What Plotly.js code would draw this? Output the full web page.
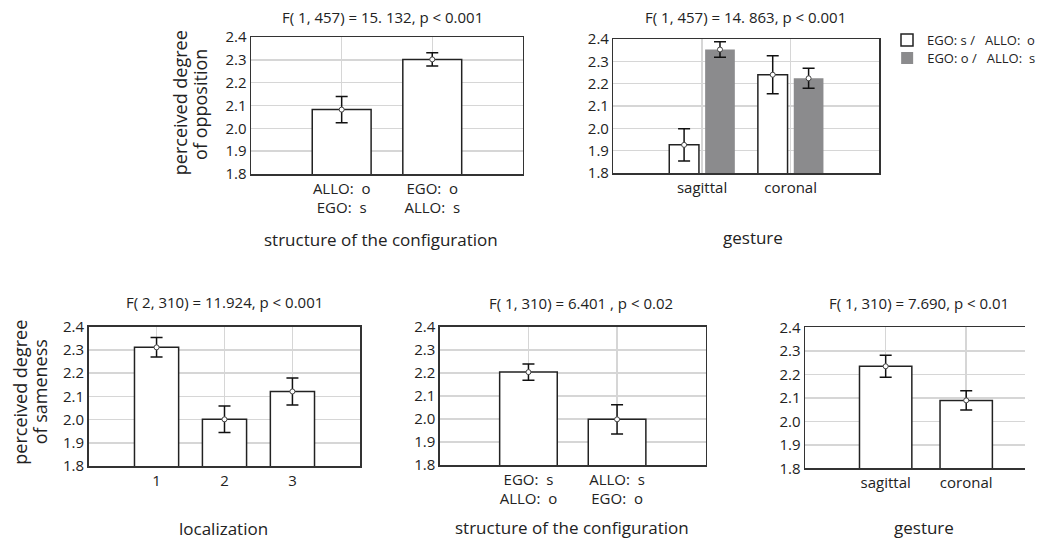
<!DOCTYPE html>
<html>
<head>
<meta charset="utf-8">
<script src="https://cdn.plot.ly/plotly-3.0.1.min.js"></script>
<style>html,body{margin:0;padding:0;background:#fff}#chart{width:1041px;height:539px}</style>
</head>
<body>
<div id="chart"></div>
<script>
// ---------- data ----------
const oppStructureCats = ['ALLO:  o<br>EGO:  s', 'EGO:  o<br>ALLO:  s'];
const oppStructureMean = [2.082, 2.302];
const oppStructureErr  = [0.057, 0.029];

const gestureCats = ['sagittal', 'coronal'];
const seriesNames = ['EGO: s /   ALLO:  o', 'EGO: o /   ALLO:  s'];
const oppGestureEgoSMean = [1.926, 2.240];
const oppGestureEgoSErr  = [0.072, 0.085];
const oppGestureEgoOMean = [2.353, 2.224];
const oppGestureEgoOErr  = [0.035, 0.045];

const localizationCats = ['1', '2', '3'];
const sameLocMean = [2.311, 2.001, 2.121];
const sameLocErr  = [0.042, 0.057, 0.058];

const sameStructureCats = ['EGO:  s<br>ALLO:  o', 'ALLO:  s<br>EGO:  o'];
const sameStructureMean = [2.203, 1.998];
const sameStructureErr  = [0.035, 0.063];

const sameGestureMean = [2.234, 2.089];
const sameGestureErr  = [0.047, 0.041];

const yTicks = [1.8, 1.9, 2.0, 2.1, 2.2, 2.3, 2.4];

const titles = [
  'F( 1, 457) = 15. 132, p < 0.001',
  'F( 1, 457) = 14. 863, p < 0.001',
  'F( 2, 310) = 11.924, p < 0.001',
  'F( 1, 310) = 6.401 , p < 0.02',
  'F( 1, 310) = 7.690, p < 0.01'
];
const xTitles = ['structure of the configuration', 'gesture', 'localization', 'structure of the configuration', 'gesture'];
const yTitleLines = [['perceived degree', 'of opposition'], ['perceived degree', 'of sameness']];

// ---------- helpers ----------
const W = 1041, H = 539;
const px = x => x / W;
const py = y => 1 - y / H;
const idx = arr => arr.map((_, i) => i);
const INK = '#222';
const GRID = '#d6d6d6';
const FONT = 'Open Sans, sans-serif';
const WHITE = '#ffffff';
const GREY = '#8b8b8d';

function barTrace(xs, ys, ax, opts) {
  return Object.assign({
    type: 'bar', x: xs, y: ys, xaxis: 'x' + ax, yaxis: 'y' + ax,
    width: 0.65, marker: {color: WHITE, line: {color: INK, width: 1.5}},
    showlegend: false, hoverinfo: 'y'
  }, opts || {});
}
function meanTrace(xs, ys, err, ax) {
  return {
    type: 'scatter', mode: 'markers', x: xs, y: ys, xaxis: 'x' + ax, yaxis: 'y' + ax,
    error_y: {type: 'data', array: err, visible: true, color: '#111', thickness: 1.5, width: 6},
    marker: {symbol: 'circle', size: 5, color: '#fff', line: {color: '#444', width: 1}},
    showlegend: false, hoverinfo: 'y'
  };
}
const ax = s => (s === 1 ? '' : String(s));

// ---------- traces ----------
const g = idx(gestureCats);
const halfW = 0.335, off = 0.2025;
const traces = [
  barTrace(idx(oppStructureCats), oppStructureMean, ''),
  meanTrace(idx(oppStructureCats), oppStructureMean, oppStructureErr, ''),

  barTrace(g, oppGestureEgoSMean, '2', {width: halfW, offset: -0.37, name: seriesNames[0], showlegend: true,
    legend: 'legend', marker: {color: WHITE, line: {color: INK, width: 1.5}}}),
  barTrace(g, oppGestureEgoOMean, '2', {width: halfW, offset: 0.035, name: seriesNames[1], showlegend: true,
    legend: 'legend2', marker: {color: GREY, line: {color: GREY, width: 0}}}),
  meanTrace(g.map(v => v - off), oppGestureEgoSMean, oppGestureEgoSErr, '2'),
  meanTrace(g.map(v => v + off), oppGestureEgoOMean, oppGestureEgoOErr, '2'),

  barTrace(idx(localizationCats), sameLocMean, '3'),
  meanTrace(idx(localizationCats), sameLocMean, sameLocErr, '3'),

  barTrace(idx(sameStructureCats), sameStructureMean, '4'),
  meanTrace(idx(sameStructureCats), sameStructureMean, sameStructureErr, '4'),

  barTrace(idx(gestureCats), sameGestureMean, '5'),
  meanTrace(idx(gestureCats), sameGestureMean, sameGestureErr, '5')
];

// ---------- layout ----------
const boxes = [
  {x0: 255, x1: 531, y0: 37, y1: 174, xr: [-1, 2], cats: oppStructureCats},
  {x0: 623, x1: 893, y0: 39, y1: 173, xr: [-1, 2], cats: gestureCats},
  {x0: 90, x1: 366, y0: 326.7, y1: 466, xr: [-1, 3], cats: localizationCats},
  {x0: 446.7, x1: 716.7, y0: 326.7, y1: 465, xr: [-1, 2], cats: sameStructureCats},
  {x0: 817.7, x1: 1041, y0: 327.3, y1: 468.3, xr: [-1, 1.73], cats: gestureCats}
];

const legendBase = {xanchor: 'left', yanchor: 'middle', font: {size: 13, color: INK},
  bgcolor: 'rgba(0,0,0,0)', borderwidth: 0, itemwidth: 30};

const layout = {
  width: W, height: H,
  margin: {l: 0, r: 0, t: 0, b: 0},
  paper_bgcolor: '#fff', plot_bgcolor: '#fff',
  font: {family: FONT, size: 15, color: INK},
  barmode: 'overlay',
  showlegend: true,
  legend: Object.assign({x: px(901), y: py(40)}, legendBase),
  legend2: Object.assign({x: px(901), y: py(58)}, legendBase),
  annotations: []
};

boxes.forEach((b, i) => {
  const n = ax(i + 1);
  layout['xaxis' + n] = {
    domain: [px(b.x0), px(b.x1)], anchor: 'y' + n, range: b.xr,
    tickmode: 'array', tickvals: idx(b.cats), ticktext: b.cats,
    showgrid: true, gridcolor: GRID, gridwidth: 1.5, zeroline: false,
    showline: true, mirror: true, linecolor: '#333', linewidth: 1.5,
    ticks: '', tickfont: {size: 15, color: INK}, fixedrange: true
  };
  layout['yaxis' + n] = {
    domain: [py(b.y1), py(b.y0)], anchor: 'x' + n, range: [1.8, 2.4],
    tickmode: 'array', tickvals: yTicks, ticktext: yTicks.map(v => v.toFixed(1)),
    showgrid: true, gridcolor: GRID, gridwidth: 1.5, zeroline: false,
    showline: true, mirror: i === 4 ? false : true, linecolor: '#333', linewidth: 1.5,
    ticks: '', tickfont: {size: 15, color: INK}, fixedrange: true
  };
});

// subplot titles
const titlePos = [[388, 17], [757, 17], [228, 302], [590, 303], [933, 303]];
titles.forEach((t, i) => layout.annotations.push({
  text: t, xref: 'paper', yref: 'paper', x: px(titlePos[i][0]), y: py(titlePos[i][1]),
  xanchor: 'center', yanchor: 'middle', showarrow: false, font: {size: 15, color: INK}
}));
// x-axis titles
const xtPos = [[387, 239], [765, 237], [227, 528], [581, 527], [938, 527]];
xTitles.forEach((t, i) => layout.annotations.push({
  text: t, xref: 'paper', yref: 'paper', x: px(xtPos[i][0]), y: py(xtPos[i][1]),
  xanchor: 'center', yanchor: 'middle', showarrow: false, font: {size: 17, color: INK}
}));
// y-axis titles (two lines each, tightly spaced)
const ytPos = [[[183, 103], [203, 104]], [[20, 392], [41, 392]]];
yTitleLines.forEach((lines, i) => lines.forEach((t, j) => layout.annotations.push({
  text: t, xref: 'paper', yref: 'paper', x: px(ytPos[i][j][0]), y: py(ytPos[i][j][1]),
  xanchor: 'center', yanchor: 'middle', textangle: -90, showarrow: false,
  font: {size: 18, color: INK}
})));

Plotly.newPlot('chart', traces, layout, {displayModeBar: false, staticPlot: true});
</script>
</body>
</html>
